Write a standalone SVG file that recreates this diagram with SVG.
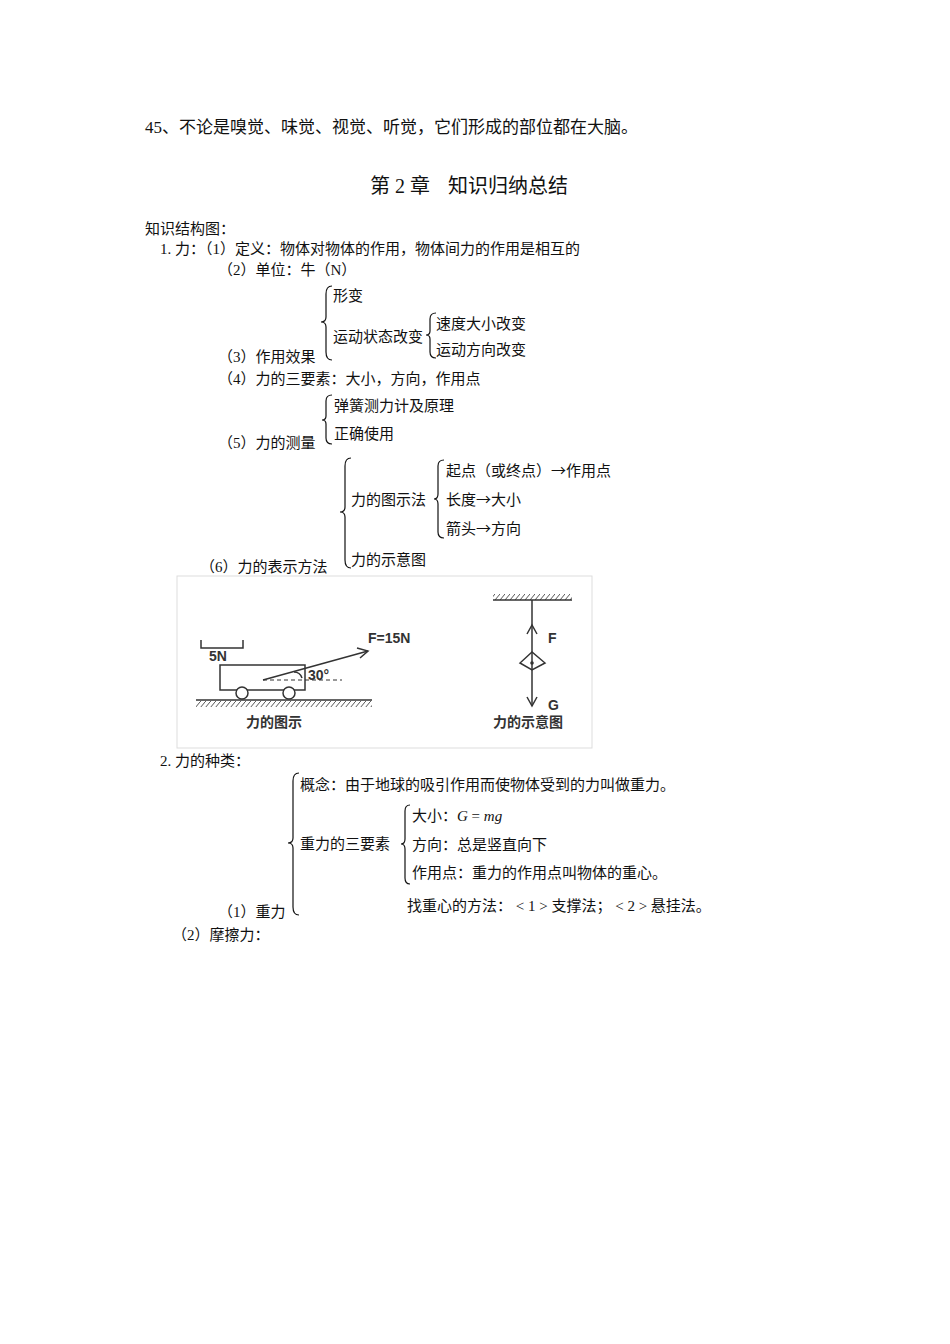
<svg xmlns="http://www.w3.org/2000/svg" width="950" height="1344" viewBox="0 0 950 1344">
<style>
text{font-family:"Liberation Serif","Noto Sans CJK SC",serif;font-size:15px;fill:#111}
.t{font-size:20px}
.a{font-family:"Noto Sans CJK SC",sans-serif}
.b{fill:none;stroke:#111;stroke-width:1.2}
.f{font-family:"Liberation Sans","Noto Sans CJK SC",sans-serif;font-size:14px;fill:#333;font-weight:bold}
.l{stroke:#333;stroke-width:1.5;fill:none}
</style>
<defs>
<pattern id="h" width="5" height="6" patternUnits="userSpaceOnUse"><path d="M0 6 L5 0" stroke="#555" stroke-width="1"/></pattern>
</defs>
<rect width="950" height="1344" fill="#fff"/>
<text x="145" y="133" style="font-size:17px">45、不论是嗅觉、味觉、视觉、听觉，它们形成的部位都在大脑。</text>
<text x="370" y="193" class="t">第 2 章  <tspan x="448">知识归纳总结</tspan></text>
<text x="145" y="234">知识结构图：</text>
<text x="160" y="254">1. 力：（1）定义：物体对物体的作用，物体间力的作用是相互的</text>
<text x="218" y="275">（2）单位：牛（N）</text>
<g id="braces">
<path class="b" d="M332 286 Q326 286 326 294 L326 317 Q326 322 321 322 Q326 322 326 327 L326 352 Q326 360 332 360"/>
<path class="b" d="M436 313 Q430 313 430 319 L430 331 Q430 335 426 335 Q430 335 430 339 L430 352 Q430 358 436 358"/>
<path class="b" d="M332 395 Q326 395 326 401 L326 416 Q326 420 322 420 Q326 420 326 424 L326 438 Q326 444 332 444"/>
<path class="b" d="M351 458 Q345 458 345 466 L345 507 Q345 512 340 512 Q345 512 345 517 L345 560 Q345 568 351 568"/>
<path class="b" d="M444 460 Q438 460 438 466 L438 494 Q438 499 434 499 Q438 499 438 504 L438 532 Q438 538 444 538"/>
<path class="b" d="M299 773 Q293 773 293 781 L293 838 Q293 843 288 843 Q293 843 293 848 L293 907 Q293 915 299 915"/>
<path class="b" d="M410 805 Q405 805 405 811 L405 839 Q405 844 401 844 Q405 844 405 849 L405 878 Q405 884 410 884"/>
</g>
<text x="333" y="301">形变</text>
<text x="333" y="342">运动状态改变</text>
<text x="436" y="329">速度大小改变</text>
<text x="436" y="355">运动方向改变</text>
<text x="218" y="362">（3）作用效果</text>
<text x="218" y="384">（4）力的三要素：大小，方向，作用点</text>
<text x="334" y="411">弹簧测力计及原理</text>
<text x="334" y="439">正确使用</text>
<text x="218" y="448">（5）力的测量</text>
<text x="446" y="476">起点（或终点）<tspan class="a">→</tspan>作用点</text>
<text x="351" y="505">力的图示法</text>
<text x="446" y="505">长度<tspan class="a">→</tspan>大小</text>
<text x="446" y="534">箭头<tspan class="a">→</tspan>方向</text>
<text x="351" y="565">力的示意图</text>
<text x="200" y="572">（6）力的表示方法</text>
<g id="figure">
<rect x="177" y="576" width="415" height="172" fill="#fff" stroke="#ddd"/>
<rect x="196" y="701" width="176" height="6" fill="url(#h)"/>
<line class="l" x1="196" y1="700" x2="372" y2="700"/>
<rect class="l" x="220" y="665" width="85" height="25"/>
<circle cx="242" cy="693" r="6" fill="#fff" stroke="#333" stroke-width="1.5"/>
<circle cx="289" cy="693" r="6" fill="#fff" stroke="#333" stroke-width="1.5"/>
<line x1="263" y1="680" x2="342" y2="680" stroke="#333" stroke-dasharray="4,3"/>
<line class="l" x1="263" y1="680" x2="368" y2="651"/>
<path class="l" d="M357 648 L368 651 L360 658"/>
<path class="l" d="M294 672 Q300 672 302 678"/>
<path class="l" d="M201 640 L201 648 L243 648 L243 640"/>
<text x="209" y="661" class="f">5N</text>
<text x="308" y="680" class="f">30°</text>
<text x="368" y="643" class="f">F=15N</text>
<text x="246" y="727" class="f">力的图示</text>
<rect x="493" y="594" width="79" height="6" fill="url(#h)"/>
<line class="l" x1="493" y1="600" x2="572" y2="600"/>
<line class="l" x1="532" y1="600" x2="532" y2="706"/>
<path class="l" d="M527 634 L532 625 L537 634"/>
<path class="l" d="M527 697 L532 706 L537 697"/>
<path class="l" d="M532 652 L520 663 L532 670 L545 663 Z"/>
<circle cx="532" cy="663" r="1.8" fill="#333"/>
<text x="548" y="643" class="f">F</text>
<text x="548" y="710" class="f">G</text>
<text x="493" y="727" class="f">力的示意图</text>
</g>
<text x="160" y="766">2. 力的种类：</text>
<text x="300" y="790">概念：由于地球的吸引作用而使物体受到的力叫做重力。</text>
<text x="300" y="849">重力的三要素</text>
<text x="412" y="821">大小：<tspan font-style="italic">G</tspan> = <tspan font-style="italic">mg</tspan></text>
<text x="412" y="850">方向：总是竖直向下</text>
<text x="412" y="878">作用点：重力的作用点叫物体的重心。</text>
<text x="407" y="911">找重心的方法：  &lt; 1 &gt; 支撑法；  &lt; 2 &gt; 悬挂法。</text>
<text x="218" y="917">（1）重力</text>
<text x="172" y="940">（2）摩擦力：</text>
</svg>
